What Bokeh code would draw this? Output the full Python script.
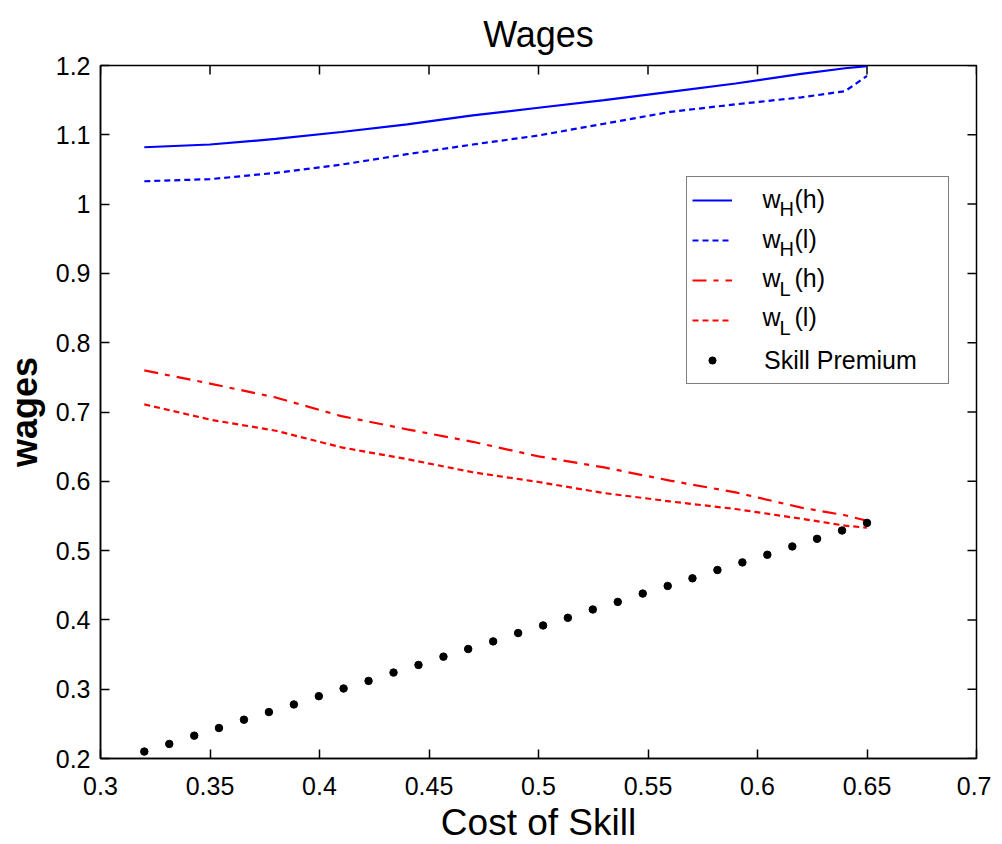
import math
from bokeh.plotting import figure
from bokeh.models import Range1d, FixedTicker, Legend, LegendItem, Label
from bokeh.embed import file_html
from bokeh.resources import INLINE

# ---- data ----
cost = [0.32, 0.35, 0.38, 0.41, 0.44, 0.47, 0.50, 0.53, 0.56, 0.59, 0.62, 0.64, 0.65]
wH_h = [1.082, 1.086, 1.094, 1.104, 1.115, 1.128, 1.139, 1.150, 1.162, 1.174, 1.188, 1.196, 1.199]
wH_l = [1.033, 1.036, 1.045, 1.057, 1.072, 1.086, 1.099, 1.116, 1.133, 1.144, 1.154, 1.163, 1.185]
wL_h = [0.760, 0.741, 0.721, 0.694, 0.675, 0.657, 0.636, 0.620, 0.601, 0.584, 0.562, 0.551, 0.543]
wL_l = [0.711, 0.689, 0.673, 0.649, 0.632, 0.613, 0.599, 0.583, 0.571, 0.560, 0.546, 0.536, 0.533]

sp_cost = [0.3200, 0.3314, 0.3428, 0.3541, 0.3655, 0.3769, 0.3883, 0.3997, 0.4110, 0.4224,
           0.4338, 0.4452, 0.4566, 0.4679, 0.4793, 0.4907, 0.5021, 0.5134, 0.5248, 0.5362,
           0.5476, 0.5590, 0.5703, 0.5817, 0.5931, 0.6045, 0.6159, 0.6272, 0.6386, 0.6500]
skill_premium = [0.210, 0.221, 0.233, 0.244, 0.256, 0.267, 0.278, 0.290, 0.301, 0.312,
                 0.324, 0.335, 0.347, 0.358, 0.369, 0.381, 0.392, 0.403, 0.415, 0.426,
                 0.438, 0.449, 0.460, 0.472, 0.483, 0.494, 0.506, 0.517, 0.529, 0.540]

x_ticks = [0.3, 0.35, 0.4, 0.45, 0.5, 0.55, 0.6, 0.65, 0.7]
x_tick_labels = ["0.3", "0.35", "0.4", "0.45", "0.5", "0.55", "0.6", "0.65", "0.7"]
y_ticks = [0.2, 0.3, 0.4, 0.5, 0.6, 0.7, 0.8, 0.9, 1.0, 1.1, 1.2]
y_tick_labels = ["0.2", "0.3", "0.4", "0.5", "0.6", "0.7", "0.8", "0.9", "1", "1.1", "1.2"]

title_text = "Wages"
x_label = "Cost of Skill"
y_label = "wages"
legend_parts = [("w", "H", "(h)"), ("w", "H", "(l)"), ("w", "L", "(h)"), ("w", "L", "(l)")]
legend_last = "Skill Premium"

FONT = "Liberation Sans"
X0, X1 = 0.3, 0.7
Y0, Y1 = 0.2, 1.2

p = figure(
    output_backend="svg", toolbar_location=None,
    frame_width=876, frame_height=693,
    min_border_left=95, min_border_right=15, min_border_top=65, min_border_bottom=70,
    x_range=Range1d(X0, X1), y_range=Range1d(Y0, Y1),
    background_fill_color="white", border_fill_color="white",
)
p.title.text = title_text
p.title.align = "center"
p.title.text_font = FONT
p.title.text_font_size = "36px"
p.title.text_font_style = "normal"
p.title.text_color = "black"
p.title.standoff = 22

p.grid.visible = False
p.outline_line_color = "black"
p.outline_line_width = 1.5

for ax in p.xaxis:
    ax.ticker = FixedTicker(ticks=x_ticks)
    ax.major_label_overrides = {t: s for t, s in zip(x_ticks, x_tick_labels)}
    ax.axis_label = x_label
    ax.axis_label_text_font = FONT
    ax.axis_label_text_font_size = "37px"
    ax.axis_label_text_font_style = "normal"
    ax.axis_label_standoff = 4
    ax.major_label_standoff = 18
for ax in p.yaxis:
    ax.ticker = FixedTicker(ticks=y_ticks)
    ax.major_label_overrides = {t: s for t, s in zip(y_ticks, y_tick_labels)}
    ax.axis_label = y_label
    ax.axis_label_text_font = FONT
    ax.axis_label_text_font_size = "36px"
    ax.axis_label_text_font_style = "bold"
    ax.axis_label_standoff = 8
    ax.major_label_standoff = 10

for ax in list(p.xaxis) + list(p.yaxis):
    ax.major_label_text_font = FONT
    ax.major_label_text_font_size = "25px"
    ax.major_label_text_color = "black"
    ax.major_tick_in = 9
    ax.major_tick_out = 0
    ax.minor_tick_line_color = None
    ax.axis_line_color = "black"
    ax.axis_line_width = 1.5
    ax.major_tick_line_width = 1.5
    ax.axis_label_text_color = "black"

# tick marks on the top and right edges (half of each dash is clipped by the frame)
p.scatter(x_ticks, [Y1] * len(x_ticks), marker="dash", size=18, angle=math.pi / 2,
          line_color="black", line_width=1.5)
p.scatter([X1] * len(y_ticks), y_ticks, marker="dash", size=18, angle=0,
          line_color="black", line_width=1.5)

r1 = p.line(cost, wH_h, line_color="#0000ff", line_width=2.2)
r2 = p.line(cost, wH_l, line_color="#0000ff", line_width=2.2, line_dash="6 4")
r3 = p.line(cost, wL_h, line_color="#ff0000", line_width=2.2, line_dash="14 7 5 7")
r4 = p.line(cost, wL_l, line_color="#ff0000", line_width=2.2, line_dash="6 4")
r5 = p.scatter(sp_cost, skill_premium, size=7.5, marker="circle", fill_color="black", line_color="black")

legend = Legend(
    items=[LegendItem(label=" ", renderers=[r]) for r in (r1, r2, r3, r4)]
          + [LegendItem(label=legend_last, renderers=[r5])],
    location=(586, 374), margin=0, padding=5, spacing=4,
    glyph_width=40, glyph_height=18, label_height=36, label_width=179, label_standoff=32,
    label_text_font=FONT, label_text_font_size="25px", label_text_color="black",
    border_line_color="black", border_line_width=1.5,
    background_fill_alpha=0.0,
)
p.add_layout(legend)

# legend texts with subscripts (screen units relative to frame bottom-left)
frame_bottom_page = 759
main_baselines_page = [199, 239, 278, 317]
sub_baselines_page = [209, 249, 289, 328]
for (main, sub, tail), yb, ys in zip(legend_parts, main_baselines_page, sub_baselines_page):
    common = dict(x_units="screen", y_units="screen", text_font=FONT, text_color="black",
                  text_baseline="alphabetic", level="overlay")
    p.add_layout(Label(x=662, y=frame_bottom_page - yb, text=main, text_font_size="25px", **common))
    p.add_layout(Label(x=679, y=frame_bottom_page - ys, text=sub, text_font_size="20px", **common))
    p.add_layout(Label(x=694, y=frame_bottom_page - yb, text=tail, text_font_size="25px", **common))

open("out.html", "w").write(file_html(p, INLINE))
